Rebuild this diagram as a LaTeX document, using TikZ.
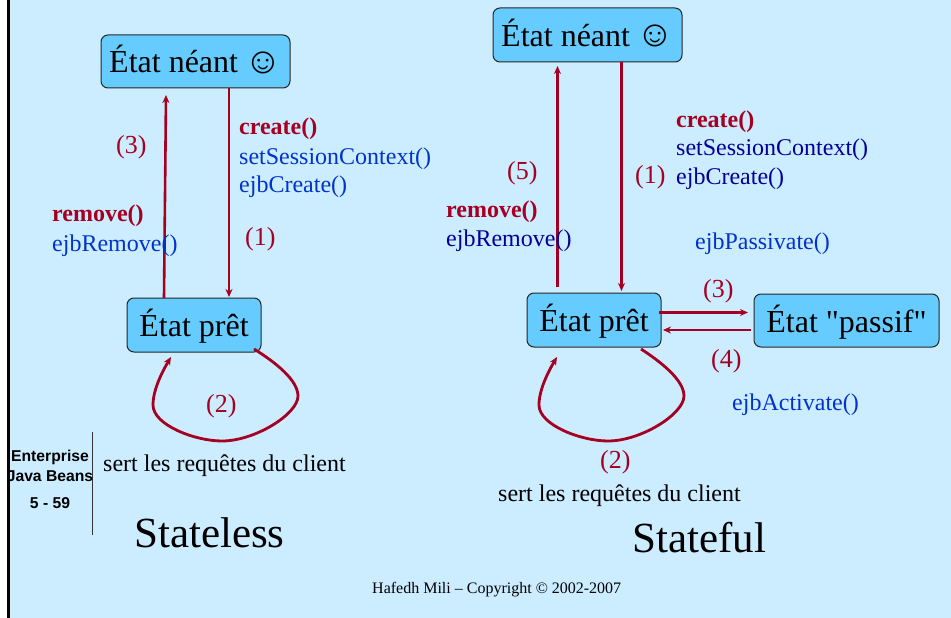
\documentclass[tikz,border=0pt]{standalone}
\usepackage{fontspec}
\setmainfont{Liberation Serif}
\newfontfamily\arialf{Liberation Sans}
\newfontfamily\qf{Liberation Serif}
\usetikzlibrary{arrows.meta,calc}
\definecolor{bgc}{HTML}{CCECFF}
\definecolor{boxc}{HTML}{66CCFF}
\definecolor{redc}{HTML}{A50021}
\definecolor{bluec}{HTML}{0033CC}
\definecolor{navyc}{HTML}{000099}
\newcommand{\fs}[1]{\fontsize{#1}{#1}\selectfont}
\newcommand{\smy}{\hspace{-2pt}\smash{\raisebox{-0.5pt}{\fs{37}☺}}}
\tikzset{
  x=1pt,y=-1pt,
  state/.style={draw=black!85,line width=1pt,fill=boxc,rounded corners=7pt,inner sep=0pt,text=black,font=\fs{32},text height=24pt,text depth=1pt},
  arr/.style={draw=redc,line width=2.6pt,-{Stealth[length=8pt,width=7pt]}},
  lab/.style={anchor=base west,inner sep=0pt},
  num/.style={lab,text=redc,font=\fs{26}},
  meth/.style={lab,text=bluec,font=\fs{24}},
  methn/.style={lab,text=navyc,font=\fs{24}},
  boldm/.style={lab,text=redc,font=\fs{24}\bfseries},
  plain/.style={lab,text=black,font=\fs{24}},
  title/.style={lab,text=black,font=\fs{43}},
  side/.style={inner sep=0pt,text=black,font=\arialf\bfseries\fs{15.7}},
}
\begin{document}
\begin{tikzpicture}
\useasboundingbox (0,0) rectangle (951,618);
\fill[white] (0,0) rectangle (951,618);
\fill[bgc] (8,0) rectangle (951,618);

% left diagram
\node[state,minimum width=189pt,minimum height=53pt] (n1) at (195.5,61.5) {État néant \smy};
\node[state,minimum width=134pt,minimum height=54pt] (p1) at (194,325) {État prêt};
\coordinate (n1in) at (166,95);
\coordinate (p1out) at (164,298);
\coordinate (n1out) at (229,88);
\coordinate (p1in) at (229,297);
\draw[arr] (p1out) -- (n1in);
\draw[arr] (n1out) -- (p1in);
\coordinate (l1s) at (254,349);
\coordinate (l1e) at (171,357);
\draw[arr,line width=2.8pt] (l1s) .. controls (275,362) and (298,380) .. (298,396)
  .. controls (298,414) and (255,441) .. (222,441)
  .. controls (195,441) and (153,425) .. (153,405)
  .. controls (153,390) and (162,372) .. (l1e);

\node[num] (t3) at (116,153) {(3)};
\node[num] (t1) at (245,245) {(1)};
\node[num] (t2) at (206,412) {(2)};
\node[boldm] (c1) at (239,134) {create()};
\node[meth] (c2) at (239,164) {setSessionContext()};
\node[meth] (c3) at (239,192) {ejbCreate()};
\node[boldm] (r1) at (52,221) {remove()};
\node[meth] (r2) at (52,251) {ejbRemove()};
\node[plain] (s1) at (103,471) {sert les requêtes du client};
\node[title] (st1) at (134,547) {Stateless};

% side tag
\node[side] (e1) at (50,457) {Enterprise};
\node[side] (e2) at (50,476) {Java Beans};
\node[side] (e3) at (50,503) {5 - 59};
\coordinate (v1) at (92.5,432);
\coordinate (v2) at (92.5,535);
\draw[black!80,line width=1pt] (v1) -- (v2);
\fill[black] (7.3,0) rectangle (10,618);

% right diagram
\node[state,minimum width=189pt,minimum height=54pt] (n2) at (587.5,35) {État néant \smy};
\node[state,minimum width=134pt,minimum height=54pt] (p2) at (594,320) {État prêt};
\node[state,minimum width=185pt,minimum height=53pt] (q2) at (846.5,320.5) {État {\qf"}passif{\qf"}};
\coordinate (n2in) at (557.5,66);
\coordinate (p2out) at (557.5,287);
\coordinate (n2out) at (621.5,62);
\coordinate (p2in) at (621.5,291);
\draw[arr] (p2out) -- (n2in);
\draw[arr] (n2out) -- (p2in);
\coordinate (a1) at (659,312.5);
\coordinate (a2) at (748,312.5);
\coordinate (b1) at (751,330);
\coordinate (b2) at (663,330);
\draw[arr] (a1) -- (a2);
\draw[arr] (b1) -- (b2);
\coordinate (l2s) at (641,349);
\coordinate (l2e) at (557,357);
\draw[arr,line width=2.8pt] (l2s) .. controls (661,362) and (684,380) .. (684,396)
  .. controls (684,414) and (641,441) .. (608,441)
  .. controls (581,441) and (539,425) .. (539,405)
  .. controls (539,390) and (548,372) .. (l2e);

\node[num] (u5) at (507,179) {(5)};
\node[num] (u1) at (635,183) {(1)};
\node[num] (u3) at (703,297) {(3)};
\node[num] (u4) at (711,367) {(4)};
\node[num] (u2) at (600,468) {(2)};
\node[boldm] (d1) at (676,127) {create()};
\node[methn] (d2) at (676,155) {setSessionContext()};
\node[methn] (d3) at (676,184) {ejbCreate()};
\node[boldm] (w1) at (446,217) {remove()};
\node[methn] (w2) at (446,246) {ejbRemove()};
\node[meth] (pa) at (695,249) {ejbPassivate()};
\node[meth] (ac) at (732,410) {ejbActivate()};
\node[plain] (s2) at (498,501) {sert les requêtes du client};
\node[title] (st2) at (632,552) {Stateful};

\node[lab,text=black,font=\fs{16}] (foot) at (372,593) {Hafedh Mili – Copyright © 2002-2007};
\end{tikzpicture}
\end{document}
